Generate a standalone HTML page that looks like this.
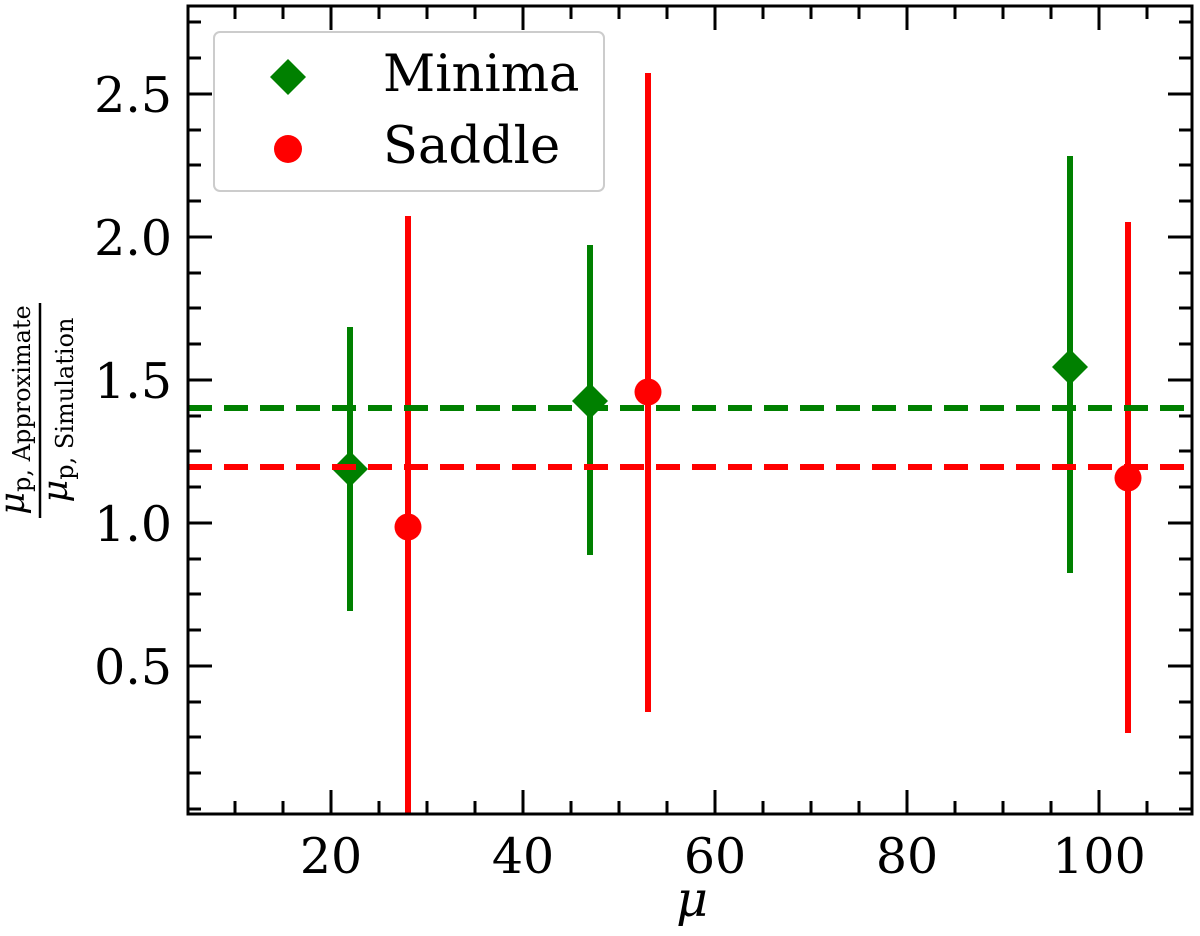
<!DOCTYPE html>
<html><head><meta charset="utf-8"><style>
html,body{margin:0;padding:0;background:#fff;}
svg{display:block;}
text{font-family:"DejaVu Serif","Liberation Serif",serif;fill:#000;}
</style></head><body>
<svg width="1200" height="936" viewBox="0 0 1200 936" xmlns="http://www.w3.org/2000/svg">
<g stroke-width="6">
<line x1="350" y1="327" x2="350" y2="611" stroke="#008000"/>
<line x1="590" y1="245" x2="590" y2="555" stroke="#008000"/>
<line x1="1070" y1="156" x2="1070" y2="573" stroke="#008000"/>
<line x1="408" y1="216" x2="408" y2="814" stroke="#ff0000"/>
<line x1="648" y1="73" x2="648" y2="712" stroke="#ff0000"/>
<line x1="1128" y1="222" x2="1128" y2="733" stroke="#ff0000"/>
</g>
<g fill="#008000">
<polygon points="350,451 368,469 350,487 332,469"/>
<polygon points="590,383 608,401 590,419 572,401"/>
<polygon points="1070,349 1088,367 1070,385 1052,367"/>
</g>
<g fill="#ff0000">
<circle cx="408" cy="527" r="13.5"/>
<circle cx="648" cy="392" r="13.5"/>
<circle cx="1128" cy="478" r="13.5"/>
</g>
<line x1="188" y1="408" x2="1192" y2="408" stroke="#008000" stroke-width="6" stroke-dasharray="24,12"/>
<line x1="188" y1="467" x2="1192" y2="467" stroke="#ff0000" stroke-width="6" stroke-dasharray="24,12"/>
<rect x="214" y="32" width="390" height="159" rx="6" fill="#fff" fill-opacity="0.8" stroke="#cccccc" stroke-width="2"/>
<polygon points="288,59 306,77 288,95 270,77" fill="#008000"/>
<circle cx="288" cy="149" r="14" fill="#ff0000"/>
<text x="383" y="91" font-size="51">Minima</text>
<text x="383" y="163" font-size="51">Saddle</text>
<rect x="188" y="6" width="1004" height="808" fill="none" stroke="#000" stroke-width="3"/>
<g stroke="#000" stroke-width="3">
<path d="M331,814v-24M523,814v-24M715,814v-24M907,814v-24M1099,814v-24
M331,6v24M523,6v24M715,6v24M907,6v24M1099,6v24"/>
<path d="M235,814v-13M283,814v-13M379,814v-13M427,814v-13M475,814v-13M571,814v-13M619,814v-13M667,814v-13M763,814v-13M811,814v-13M859,814v-13M955,814v-13M1003,814v-13M1051,814v-13M1147,814v-13
M235,6v13M283,6v13M379,6v13M427,6v13M475,6v13M571,6v13M619,6v13M667,6v13M763,6v13M811,6v13M859,6v13M955,6v13M1003,6v13M1051,6v13M1147,6v13"/>
<path d="M188,94h24M188,237h24M188,380h24M188,523h24M188,666h24
M1192,94h-24M1192,237h-24M1192,380h-24M1192,523h-24M1192,666h-24"/>
<path d="M188,22h13M188,58h13M188,130h13M188,165h13M188,201h13M188,273h13M188,308h13M188,344h13M188,416h13M188,451h13M188,487h13M188,559h13M188,594h13M188,630h13M188,702h13M188,737h13M188,773h13M188,809h13
M1192,22h-13M1192,58h-13M1192,130h-13M1192,165h-13M1192,201h-13M1192,273h-13M1192,308h-13M1192,344h-13M1192,416h-13M1192,451h-13M1192,487h-13M1192,559h-13M1192,594h-13M1192,630h-13M1192,702h-13M1192,737h-13M1192,773h-13M1192,809h-13"/>
</g>
<g font-size="49" text-anchor="end">
<text x="172" y="112">2.5</text>
<text x="172" y="255">2.0</text>
<text x="172" y="398">1.5</text>
<text x="172" y="541">1.0</text>
<text x="172" y="684">0.5</text>
</g>
<g font-size="49" text-anchor="middle">
<text x="331" y="873">20</text>
<text x="523" y="873">40</text>
<text x="715" y="873">60</text>
<text x="907" y="873">80</text>
<text x="1099" y="873">100</text>
<text x="692" y="916" font-style="italic">μ</text>
</g>
<g transform="translate(40,410) rotate(-90)">
<line x1="-108" y1="0" x2="107" y2="0" stroke="#000" stroke-width="2.5"/>
<text x="0" y="-16" text-anchor="middle" font-size="35"><tspan font-style="italic">μ</tspan><tspan font-size="24" dy="6">p, Approximate</tspan></text>
<text x="0" y="27" text-anchor="middle" font-size="35"><tspan font-style="italic">μ</tspan><tspan font-size="24" dy="6">p, Simulation</tspan></text>
</g>
</svg>
</body></html>
